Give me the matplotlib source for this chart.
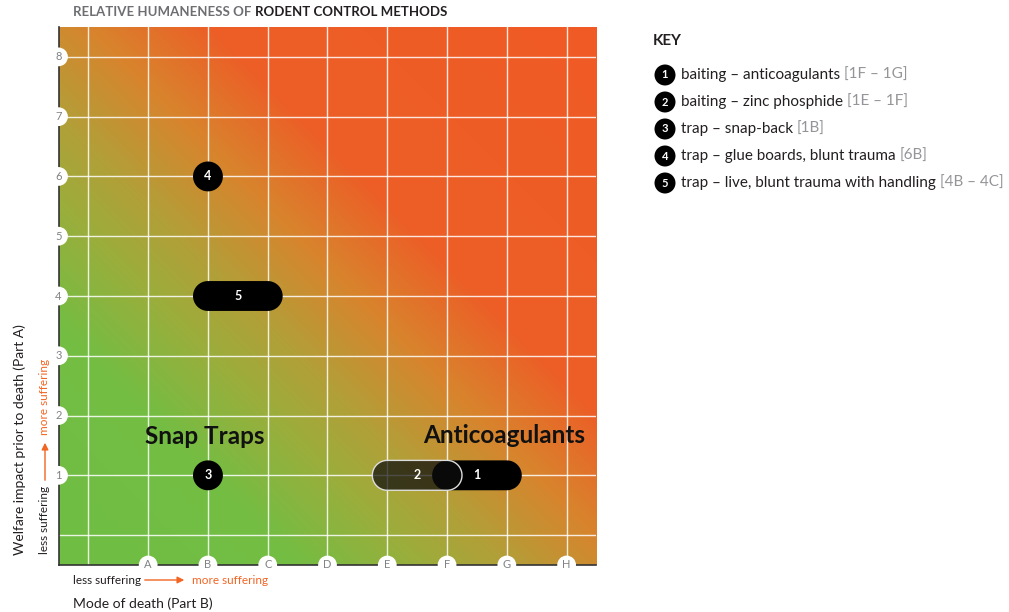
import numpy as np
import matplotlib
matplotlib.use("Agg")
import matplotlib.pyplot as plt
from matplotlib.colors import LinearSegmentedColormap
from matplotlib.patches import Polygon, FancyArrowPatch

plt.rcParams['font.family'] = ['Lato', 'DejaVu Sans']

# data
X_LABELS = ['A', 'B', 'C', 'D', 'E', 'F', 'G', 'H']
Y_LABELS = ['1', '2', '3', '4', '5', '6', '7', '8']
METHOD_NUM = ['1', '2', '3', '4', '5']
METHOD_NAME = ['baiting \u2013 anticoagulants', 'baiting \u2013 zinc phosphide', 'trap \u2013 snap-back',
               'trap \u2013 glue boards, blunt trauma', 'trap \u2013 live, blunt trauma with handling']
METHOD_CODE = ['[1F \u2013 1G]', '[1E \u2013 1F]', '[1B]', '[6B]', '[4B \u2013 4C]']
X_START = [6, 5, 2, 2, 2]   # F, E, B, B, B
X_END = [7, 6, 2, 2, 3]     # G, F, B, B, C
Y_POS = [1, 1, 1, 6, 4]
GROUP_NAMES = ['Snap Traps', 'Anticoagulants']
GROUP_X = [1.95, 6.95]
GROUP_Y = [1.65, 1.67]

ORANGE = '#f26522'
GRAY = '#808285'
R = 0.25  # marker radius in data units


def pill(x1, x2, y, r):
    a = np.linspace(-np.pi / 2, np.pi / 2, 40)
    right = np.column_stack([x2 + r * np.cos(a), y + r * np.sin(a)])
    left = np.column_stack([x1 - r * np.cos(a), y - r * np.sin(a)])
    return np.vstack([right, left])


fig = plt.figure(figsize=(10.09, 6.12), dpi=100)
ax = fig.add_axes([58 / 1009, 1 - 565 / 612, 539 / 1009, 538 / 612])

# diagonal gradient background
cmap = LinearSegmentedColormap.from_list('hum', [
    (0.0, '#6fbe44'), (4 / 18, '#74bd43'), (6 / 18, '#9aae3c'), (7.5 / 18, '#b29f38'),
    (9.5 / 18, '#d8842d'), (11.5 / 18, '#ec5f27'), (1.0, '#f15a24')])
g = np.linspace(-0.5, 8.5, 400)
gx, gy = np.meshgrid(g, g)
ax.imshow(gx + gy, extent=(-0.5, 8.5, -0.5, 8.5), origin='lower', cmap=cmap,
          vmin=-1, vmax=17, interpolation='bilinear', aspect='equal', zorder=0)

ax.set_xlim(-0.5, 8.5)
ax.set_ylim(-0.5, 8.5)
for v in range(9):
    ax.axvline(v, color='white', lw=1, alpha=0.85, zorder=1)
    ax.axhline(v, color='white', lw=1, alpha=0.85, zorder=1)
ax.set_xticks([])
ax.set_yticks([])
for s in ['top', 'right']:
    ax.spines[s].set_visible(False)
for s in ['left', 'bottom']:
    ax.spines[s].set_color('#333333')
    ax.spines[s].set_linewidth(1.2)

# tick labels in white circles
for i, lab in enumerate(X_LABELS):
    ax.text(i + 1, -0.5, lab, ha='center', va='center', fontsize=8, color=GRAY,
            bbox=dict(boxstyle='circle,pad=0.35', fc='white', ec='none'), clip_on=False, zorder=5)
for i, lab in enumerate(Y_LABELS):
    ax.text(-0.5, i + 1, lab, ha='center', va='center', fontsize=8, color=GRAY,
            bbox=dict(boxstyle='circle,pad=0.35', fc='white', ec='none'), clip_on=False, zorder=5)

# method markers
for k in range(len(METHOD_NUM)):
    x1, x2, y = X_START[k], X_END[k], Y_POS[k]
    if k == 1:
        p = Polygon(pill(x1, x2, y, R), closed=True, fc=(0.05, 0.05, 0.05, 0.72), ec='#dddddd', lw=1, zorder=4)
    else:
        p = Polygon(pill(x1, x2, y, R), closed=True, fc='black', ec='none', zorder=3)
    ax.add_patch(p)
    cx = (x1 + x2) / 2
    if k == 0:
        cx = x2 - 0.5
    if k == 1:
        cx = x1 + 0.5
    ax.text(cx, y, METHOD_NUM[k], ha='center', va='center', color='white',
            fontsize=9, fontweight='bold', zorder=6)

for name, gx_, gy_ in zip(GROUP_NAMES, GROUP_X, GROUP_Y):
    ax.text(gx_, gy_, name, ha='center', va='center', fontsize=17.5, fontweight='bold',
            color='#111111', zorder=6)

# title
t1 = fig.text(73 / 1009, 1 - 12 / 612, 'RELATIVE HUMANENESS OF ', fontsize=9.5, fontweight='bold',
              color='#6d6e71', va='center', ha='left')
fig.canvas.draw()
bb = t1.get_window_extent()
fig.text(bb.x1 / 1009, 1 - 12 / 612, 'RODENT CONTROL METHODS', fontsize=9.5, fontweight='bold',
         color='#231f20', va='center', ha='left')

# axis titles
fig.text(73 / 1009, 1 - 604 / 612, 'Mode of death (Part B)', fontsize=10, color='#231f20', va='center')
fig.text(73 / 1009, 1 - 580 / 612, 'less suffering', fontsize=8.5, color='#231f20', va='center')
fig.text(192 / 1009, 1 - 580 / 612, 'more suffering', fontsize=8.5, color=ORANGE, va='center')
fig.add_artist(FancyArrowPatch((142 / 1009, 1 - 580 / 612), (187 / 1009, 1 - 580 / 612),
               transform=fig.transFigure, arrowstyle='-|>,head_length=4,head_width=2', color=ORANGE, lw=1))

fig.text(20 / 1009, 1 - 440 / 612, 'Welfare impact prior to death (Part A)', fontsize=10, color='#231f20',
         rotation=90, va='center', ha='center')
fig.text(45 / 1009, 1 - 554 / 612, 'less suffering', fontsize=8.5, color='#231f20', rotation=90,
         va='bottom', ha='center')
fig.text(45 / 1009, 1 - 435 / 612, 'more suffering', fontsize=8.5, color=ORANGE, rotation=90,
         va='bottom', ha='center')
fig.add_artist(FancyArrowPatch((45 / 1009, 1 - 483 / 612), (45 / 1009, 1 - 440 / 612),
               transform=fig.transFigure, arrowstyle='-|>,head_length=4,head_width=2', color=ORANGE, lw=1))

# key
fig.text(653 / 1009, 1 - 41 / 612, 'KEY', fontsize=11, fontweight='bold', color='#231f20', va='center')
for i in range(len(METHOD_NUM)):
    yy = 1 - (75 + 27 * i) / 612
    fig.text(665 / 1009, yy, METHOD_NUM[i], fontsize=8, fontweight='bold', color='white', ha='center',
             va='center', bbox=dict(boxstyle='circle,pad=0.45', fc='black', ec='none'))
    tn = fig.text(681 / 1009, yy, METHOD_NAME[i] + ' ', fontsize=11, color='#231f20', va='center')
    fig.canvas.draw()
    b = tn.get_window_extent()
    fig.text(b.x1 / 1009, yy, METHOD_CODE[i], fontsize=11, color='#939598', va='center')

fig.savefig('out.png', dpi=100)
